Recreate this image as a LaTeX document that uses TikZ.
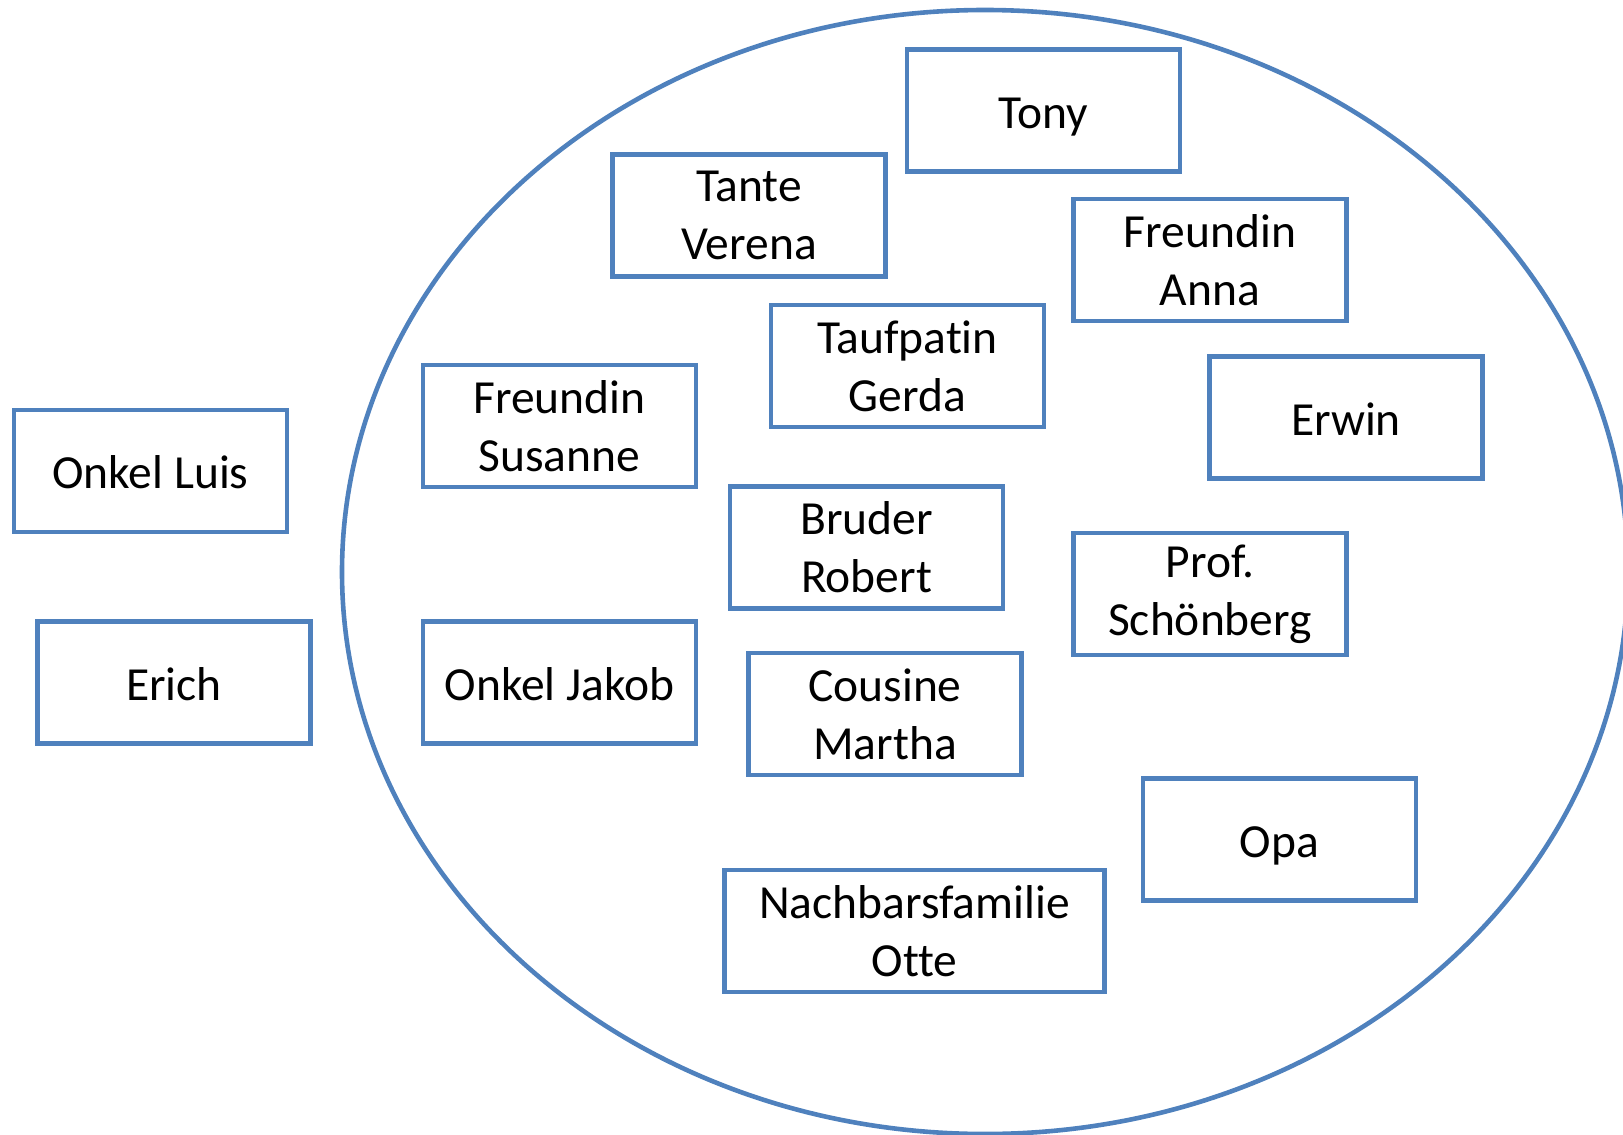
\documentclass[tikz,border=0pt]{standalone}
\usepackage{fontspec}
\setmainfont{Carlito}[Ligatures={NoCommon}]
\definecolor{boxblue}{HTML}{4F81BD}
\begin{document}
\begin{tikzpicture}[x=1pt,y=-1pt,
  pbox/.style={draw=boxblue, line width=4.6pt, fill=white, minimum width=273pt, minimum height=122pt,
    inner sep=0pt, align=center, font=\fontsize{47.5}{58}\selectfont, text=black},
  wbox/.style={pbox, minimum width=380pt},
  lone/.style={text depth=0pt, text height=35pt}]
\useasboundingbox (0,0) rectangle (1623,1135);
\draw[boxblue, line width=4.6pt] (985,572) ellipse [x radius=643pt, y radius=562pt];
\node[pbox, lone] (luis) at (150.5,471) {Onkel Luis};
\node[pbox, lone] (erich) at (174,682.5) {Erich};
\node[pbox] (verena) at (749,215.5) {Tante\\Verena};
\node[pbox, lone] (tony) at (1043.5,110.5) {Tony};
\node[pbox] (anna) at (1210,260) {Freundin\\Anna};
\node[pbox] (gerda) at (907.5,366) {Taufpatin\\Gerda};
\node[pbox] (susanne) at (559.5,426) {Freundin\\Susanne};
\node[pbox, lone] (erwin) at (1346,417.5) {Erwin};
\node[pbox] (robert) at (866.5,547.5) {Bruder\\Robert};
\node[pbox] (schoenberg) at (1210,594) {Prof.\\Schönberg};
\node[pbox, lone] (jakob) at (559.5,682.5) {Onkel Jakob};
\node[pbox] (martha) at (885,714) {Cousine\\Martha};
\node[pbox, lone] (opa) at (1279.5,839.5) {Opa};
\node[wbox] (otte) at (914.5,931) {Nachbarsfamilie\\Otte};
\end{tikzpicture}
\end{document}
